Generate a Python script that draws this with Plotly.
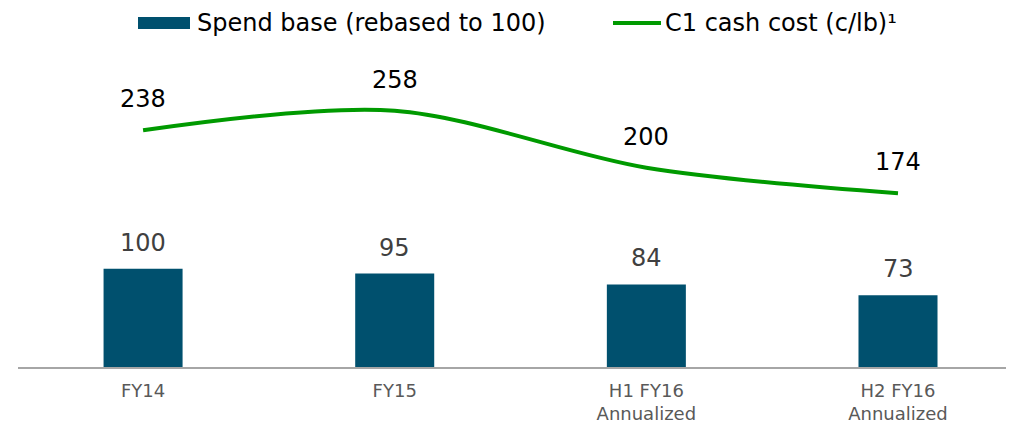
import plotly.graph_objects as go

categories = ["FY14", "FY15", "H1 FY16<br>Annualized", "H2 FY16<br>Annualized"]
spend_base = [100, 95, 84, 73]
c1_cost = [238, 258, 200, 174]
bar_name = "Spend base (rebased to 100)"
line_name = "C1 cash cost (c/lb)¹"

BAR_COLOR = "#00506E"
LINE_COLOR = "#009A00"
FONT = "Verdana, DejaVu Sans, sans-serif"

# page has 8px body margin; figure sized to fit the window
OFF = 8
W, H = 1006, 418
L, R, T, B = 10, 1, 52, 59
PW, PH = W - L - R, H - T - B


def px(page_x):
    return (page_x - OFF - L) / PW


def py(page_y):
    return (H - B - (page_y - OFF)) / PH


fig = go.Figure()
fig.add_trace(go.Bar(x=categories, y=spend_base, marker_color=BAR_COLOR,
                     marker_line_width=0, width=0.314, showlegend=False,
                     hoverinfo="skip"))
fig.add_trace(go.Scatter(x=categories, y=c1_cost, mode="lines", yaxis="y2",
                         line=dict(color=LINE_COLOR, width=4, shape="spline", smoothing=0.9),
                         showlegend=False, hoverinfo="skip"))

annotations = []
for c, v in zip(categories, spend_base):
    annotations.append(dict(x=c, y=v, xref="x", yref="y", text=str(v), showarrow=False,
                            yshift=26, font=dict(family=FONT, size=24, color="#404040")))
for c, v in zip(categories, c1_cost):
    annotations.append(dict(x=c, y=v, xref="x", yref="y2", text=str(v), showarrow=False,
                            yshift=31, font=dict(family=FONT, size=24, color="#000000")))

# custom legend
shapes = [
    dict(type="rect", xref="paper", yref="paper",
         x0=px(138), x1=px(190), y0=py(29), y1=py(17),
         fillcolor=BAR_COLOR, line_width=0),
    dict(type="line", xref="paper", yref="paper",
         x0=px(613), x1=px(661), y0=py(23), y1=py(23),
         line=dict(color=LINE_COLOR, width=4)),
]
annotations.append(dict(xref="paper", yref="paper", x=px(195), y=py(23),
                        xanchor="left", yanchor="middle", text=bar_name, showarrow=False,
                        font=dict(family=FONT, size=24, color="#000000")))
annotations.append(dict(xref="paper", yref="paper", x=px(663), y=py(23),
                        xanchor="left", yanchor="middle", text=line_name, showarrow=False,
                        font=dict(family=FONT, size=24, color="#000000")))

fig.update_layout(
    width=W, height=H,
    margin=dict(l=L, r=R, t=T, b=B),
    plot_bgcolor="white", paper_bgcolor="white",
    xaxis=dict(range=[-0.497, 3.457], showgrid=False, showline=True,
               linecolor="#A6A6A6", linewidth=2, ticks="", ticklabelstandoff=6,
               tickfont=dict(family=FONT, size=18, color="#595959")),
    yaxis=dict(range=[0, 312.3], visible=False, showgrid=False),
    yaxis2=dict(range=[-2.5, 309.5], visible=False, overlaying="y", showgrid=False),
    annotations=annotations, shapes=shapes,
)

fig.write_html("out.html")
